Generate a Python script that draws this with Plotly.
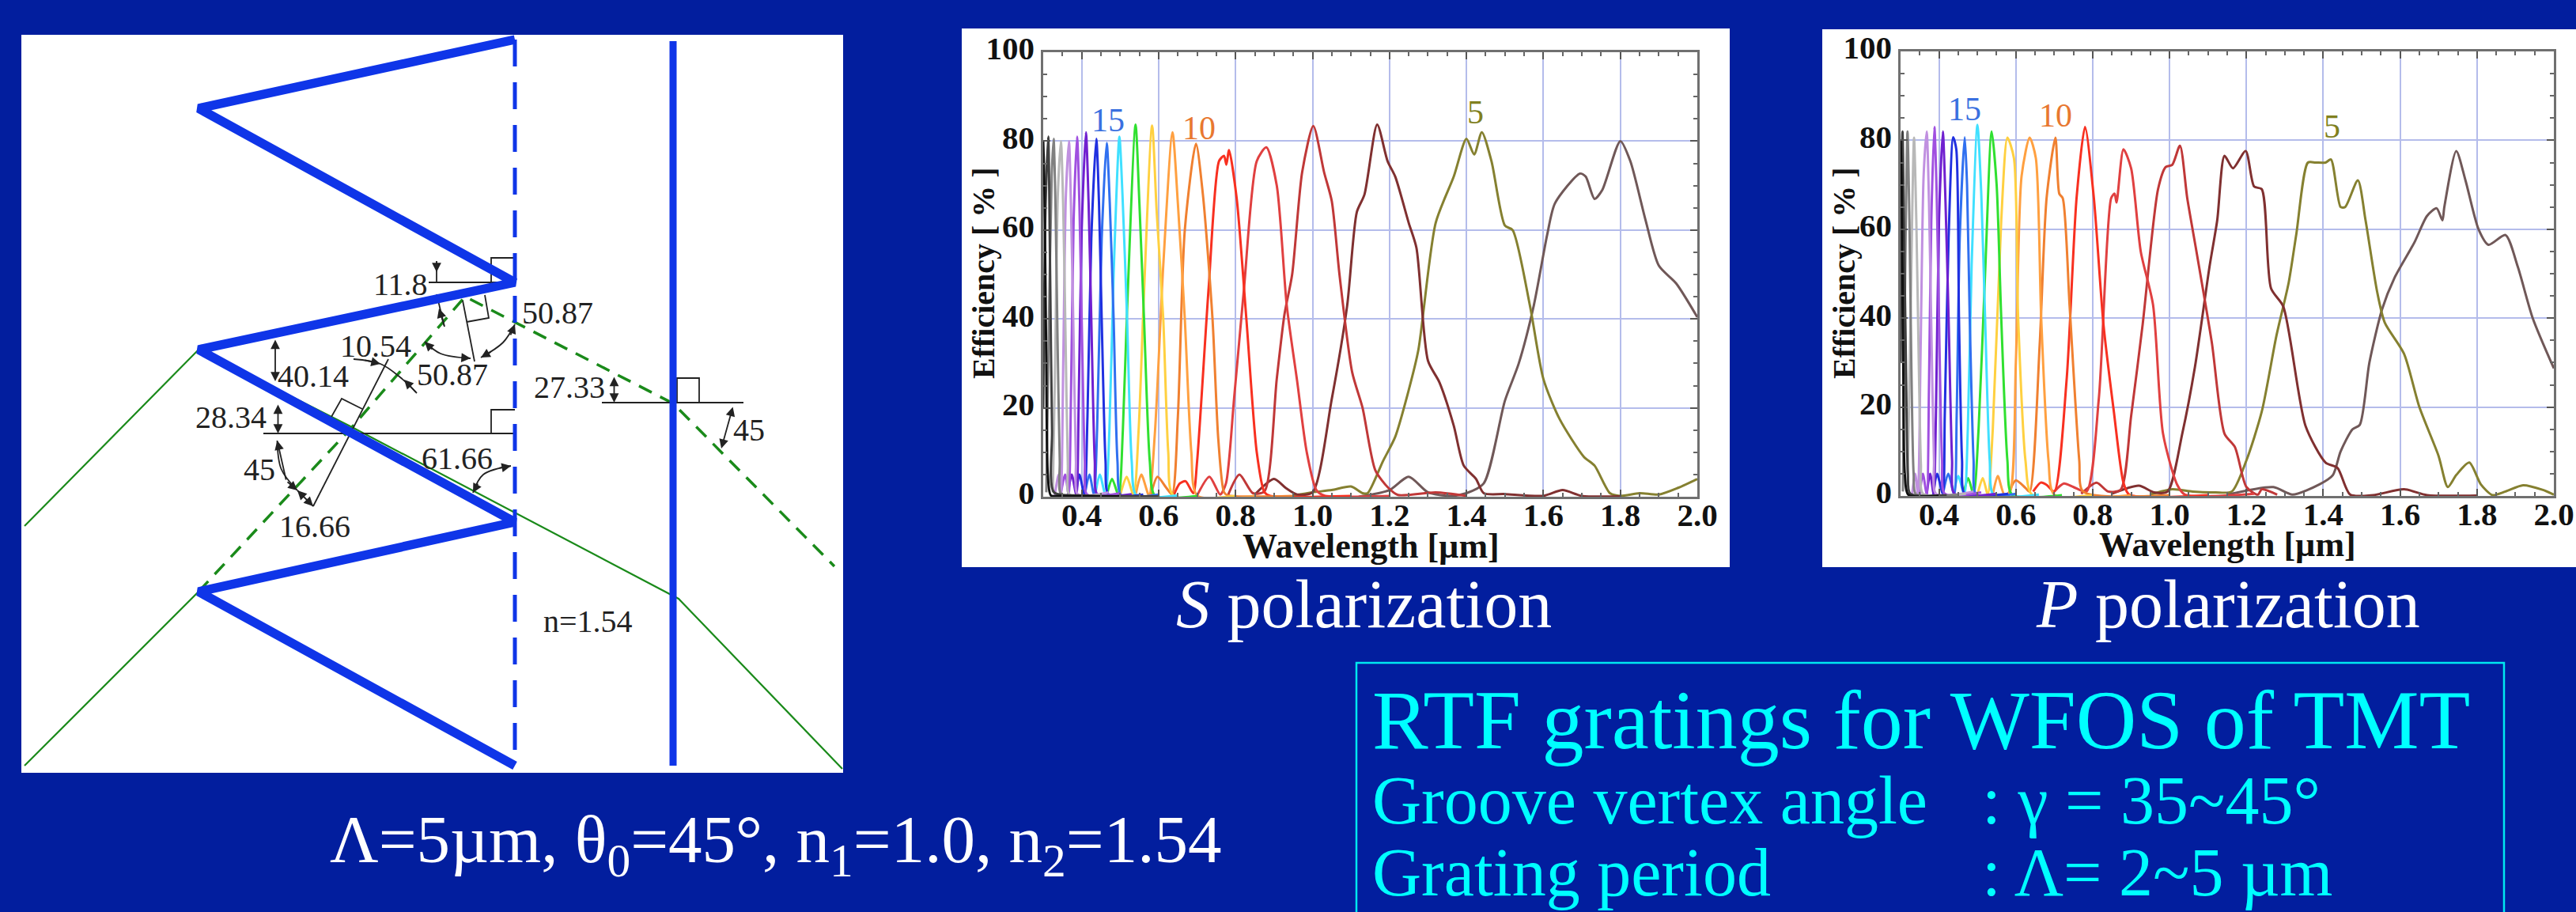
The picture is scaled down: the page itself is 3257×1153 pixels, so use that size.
import plotly.graph_objects as go

# ---------- tick labels / text ----------
x_ticks = [0.4, 0.6, 0.8, 1.0, 1.2, 1.4, 1.6, 1.8, 2.0]
x_tick_text = ["0.4", "0.6", "0.8", "1.0", "1.2", "1.4", "1.6", "1.8", "2.0"]
y_ticks = [0, 20, 40, 60, 80, 100]
y_tick_text = ["0", "20", "40", "60", "80", "100"]
colors = {23:"#101010",22:"#404040",21:"#808080",20:"#b8b8b8",19:"#c090e0",18:"#a050e0",17:"#7020d0",
          16:"#2030e0",15:"#3070f0",14:"#40e0ff",13:"#30e030",12:"#ffd040",11:"#ffa040",10:"#f08030",
          9:"#f83020",8:"#e04040",7:"#c03838",6:"#803030",5:"#858030",4:"#705858"}

# ---------- S polarization curves (wavelength um, efficiency %) ----------
s23 = [(0.30,80),(0.303,70),(0.308,30),(0.312,5),(0.32,0.3),(0.35,0.2),(0.50,0.1)]
s22 = [(0.30,20),(0.306,65),(0.313,81),(0.318,50),(0.323,15),(0.328,1),(0.40,0.3),(0.60,0.1)]
s21 = [(0.308,1),(0.315,40),(0.322,72),(0.327,80.5),(0.332,65),(0.337,37),(0.343,8),(0.347,0.5),(0.42,0.3)]
s20 = [(0.325,1),(0.331,30),(0.338,68),(0.346,80),(0.352,65),(0.358,36),(0.364,7),(0.368,0.5),(0.45,0.5)]
s19 = [(0.33,0.3),(0.34,5),(0.346,0.5),(0.352,30),(0.359,68),(0.367,80),(0.372,66),(0.378,40),(0.385,8),(0.39,0.5),(0.47,1)]
s18 = [(0.345,0.3),(0.357,5),(0.366,0.5),(0.372,22),(0.379,62),(0.388,81),(0.394,66),(0.40,40),(0.408,8),(0.414,0.5),(0.50,0.8)]
s17 = [(0.364,0.3),(0.374,5),(0.386,0.5),(0.392,20),(0.40,60),(0.411,82),(0.418,66),(0.425,40),(0.434,8),(0.441,0.5),(0.53,0.6)]
s16 = [(0.385,0.3),(0.394,5),(0.407,0.5),(0.415,18),(0.425,58),(0.438,80.5),(0.445,66),(0.452,40),(0.462,8),(0.47,0.5),(0.56,0.5)]
s15 = [(0.408,0.3),(0.42,5),(0.432,0.5),(0.44,15),(0.452,58),(0.465,79.6),(0.473,66),(0.483,40),(0.493,8),(0.503,0.3),(0.60,0.5)]
s14 = [(0.435,0.3),(0.447,5),(0.462,0.3),(0.472,15),(0.483,50),(0.498,81),(0.506,68),(0.518,40),(0.53,8),(0.542,0.3),(0.65,0.3)]
s13 = [(0.465,0.3),(0.479,4),(0.496,0.3),(0.507,15),(0.518,42),(0.54,83.7),(0.55,66),(0.562,40),(0.577,8),(0.59,0.3),(0.7,0.2)]
s12 = [(0.50,0.3),(0.517,4.5),(0.535,0.3),(0.548,15),(0.562,46),(0.583,83.5),(0.595,64),(0.612,40),(0.625,10),(0.638,0.3),(0.8,0.2)]
s11 = [(0.54,0.3),(0.555,5),(0.575,0.3),(0.59,14),(0.612,52),(0.636,82),(0.65,66),(0.668,40),(0.685,10),(0.70,0.3),(0.85,0.2)]
s10 = [(0.58,0.5),(0.597,4.5),(0.62,2),(0.635,0.5),(0.65,18),(0.668,60),(0.697,79.4),(0.715,68),(0.74,40),(0.755,13),(0.77,1),(0.78,0.3),(0.95,0.2)]
s09 = [(0.64,0.5),(0.655,3),(0.67,3.5),(0.69,0.8),(0.70,8),(0.73,47),(0.757,75.5),(0.77,76.7),(0.776,74.7),(0.783,78),(0.803,67),(0.828,40),(0.855,10),(0.875,1),(0.89,0.2),(1.1,0.2)]
s08 = [(0.70,0.3),(0.732,4.5),(0.76,0.5),(0.775,3),(0.796,22),(0.822,47),(0.855,75.5),(0.88,78.6),(0.907,70),(0.933,43),(0.96,26),(0.985,10),(1.01,1.5),(1.03,0.3),(1.2,0.2)]
s07 = [(0.78,0.3),(0.81,5),(0.845,0.8),(0.875,1.2),(0.907,26.5),(0.927,41),(0.947,50),(0.973,73),(1.002,83.4),(1.03,73),(1.05,66.5),(1.07,50),(1.103,28),(1.13,20),(1.163,6),(1.197,2),(1.222,0.4),(1.32,1),(1.4,0.2)]
s06 = [(0.85,0.5),(0.90,4),(0.93,2),(0.96,0.5),(1.0,1),(1.05,22),(1.09,43),(1.115,64),(1.135,68),(1.168,83.7),(1.195,75.5),(1.215,72),(1.25,61.6),(1.27,56),(1.30,30.6),(1.33,25.7),(1.367,16),(1.393,7),(1.425,4),(1.445,0.8),(1.5,0.6),(1.6,0.2),(1.65,1.5),(1.7,0.2),(1.8,0.1)]
s05 = [(0.95,0.3),(1.0,1),(1.05,1.5),(1.1,2.3),(1.13,0.8),(1.143,0.8),(1.183,8),(1.215,13.5),(1.25,24),(1.275,33),(1.32,61.6),(1.367,72),(1.40,80.5),(1.42,77),(1.44,82),(1.465,75.5),(1.50,61),(1.52,60),(1.565,43),(1.60,26.5),(1.642,17.5),(1.705,9),(1.733,7),(1.773,0.8),(1.80,0.2),(1.85,0.8),(1.90,0.5),(1.95,2),(2.0,4)]
s04 = [(1.12,0),(1.2,1.5),(1.25,4.5),(1.30,1),(1.36,0.2),(1.40,0.8),(1.445,3),(1.50,21.6),(1.536,30),(1.575,43),(1.61,59),(1.63,66),(1.695,72.7),(1.71,72),(1.733,67),(1.753,69),(1.80,80),(1.826,75.5),(1.865,62.4),(1.90,52),(1.945,48),(2.0,40.4)]

# ---------- P polarization curves ----------
p23 = [(0.30,80),(0.303,70),(0.307,30),(0.311,5),(0.32,0.3),(0.40,0.1)]
p22 = [(0.30,30),(0.305,82),(0.309,60),(0.314,30),(0.319,5),(0.325,0.5),(0.42,0.2)]
p21 = [(0.306,1),(0.312,50),(0.318,82),(0.323,62),(0.328,30),(0.334,5),(0.34,0.4),(0.45,0.3)]
p20 = [(0.318,1),(0.325,35),(0.335,80.6),(0.341,62),(0.347,32),(0.353,7),(0.358,0.5),(0.47,0.5)]
p19 = [(0.33,0.3),(0.338,5),(0.345,0.5),(0.352,32),(0.36,72),(0.368,82),(0.374,66),(0.38,38),(0.387,8),(0.392,0.5),(0.49,1)]
p18 = [(0.35,0.3),(0.358,5),(0.368,0.5),(0.374,25),(0.38,62),(0.388,83),(0.394,68),(0.40,40),(0.408,8),(0.415,0.5),(0.51,0.8)]
p17 = [(0.368,0.3),(0.377,5),(0.386,0.5),(0.392,18),(0.40,62),(0.41,82),(0.417,66),(0.425,40),(0.434,8),(0.44,0.5),(0.55,0.5)]
p16 = [(0.385,0.3),(0.395,5),(0.41,0.5),(0.415,18),(0.425,58),(0.437,80.7),(0.445,78),(0.452,40),(0.46,8),(0.467,0.5),(0.58,0.5)]
p15 = [(0.41,0.3),(0.424,5),(0.44,0.3),(0.446,18),(0.454,58),(0.467,80.7),(0.473,70),(0.48,40),(0.49,8),(0.497,0.3),(0.60,0.5)]
p14 = [(0.438,0.3),(0.45,4.5),(0.466,0.3),(0.475,15),(0.485,52),(0.50,83.5),(0.51,68),(0.52,40),(0.532,8),(0.542,0.3),(0.66,0.3)]
p13 = [(0.463,0.3),(0.476,4),(0.49,0.3),(0.503,15),(0.52,50),(0.537,82),(0.55,70),(0.562,40),(0.578,8),(0.59,0.3),(0.72,0.2)]
p12 = [(0.50,0.3),(0.514,4),(0.527,0.3),(0.54,15),(0.562,62),(0.578,80.6),(0.595,76),(0.606,40),(0.625,8),(0.642,0.3),(0.8,0.2)]
p11 = [(0.54,0.3),(0.553,4.5),(0.57,0.3),(0.585,1),(0.60,30),(0.615,72),(0.636,80.6),(0.652,76),(0.666,40),(0.685,8),(0.70,0.3),(0.9,0.2)]
p10 = [(0.58,0.3),(0.60,3.5),(0.625,1.8),(0.636,1),(0.662,34),(0.68,67),(0.703,80.6),(0.713,68),(0.722,67),(0.74,42.6),(0.765,8),(0.775,1),(1.0,0.2)]
p09 = [(0.645,1),(0.665,3),(0.68,2.5),(0.70,1),(0.732,26),(0.758,67),(0.78,83),(0.803,67),(0.828,38.6),(0.855,19),(0.88,3),(0.895,0.3),(1.1,0.2)]
p08 = [(0.70,1),(0.725,2.8),(0.75,2),(0.784,1),(0.816,22),(0.848,67),(0.857,68),(0.862,66),(0.88,78),(0.90,73.7),(0.925,55),(0.957,43),(0.983,14),(1.02,2.5),(1.04,0.3),(1.22,0.5)]
p07 = [(0.77,0.5),(0.81,3),(0.84,1),(0.873,1.4),(0.90,18),(0.93,38.6),(0.97,69),(0.99,74),(1.007,74.5),(1.027,78.8),(1.046,67),(1.07,55),(1.11,34.5),(1.143,14),(1.17,11),(1.20,2),(1.23,0.3),(1.24,1.5),(1.28,0.3)]
p06 = [(0.85,0.5),(0.92,2.3),(0.96,0.8),(0.995,1),(1.033,14),(1.066,29),(1.104,51.6),(1.124,62),(1.143,76.5),(1.165,73.7),(1.198,77.6),(1.22,69.6),(1.24,69),(1.264,46.7),(1.296,42.6),(1.354,15.7),(1.406,7.5),(1.437,6.3),(1.47,0.3),(1.53,0.2),(1.61,1.5),(1.67,0.2),(1.8,0.1)]
p05 = [(0.95,0.3),(1.007,1.5),(1.06,1),(1.12,0.8),(1.162,1),(1.20,8),(1.24,19),(1.278,36),(1.31,48),(1.33,59),(1.36,75),(1.38,75),(1.406,75),(1.42,75.7),(1.445,65),(1.457,65),(1.49,71),(1.51,62),(1.54,46),(1.56,39),(1.61,32),(1.65,20),(1.70,9),(1.724,2),(1.746,4.7),(1.78,7.5),(1.81,2.6),(1.84,0.2),(1.874,1),(1.92,2.4),(1.97,1.4),(2.0,0.3)]
p04 = [(1.15,0.3),(1.27,2),(1.32,0.3),(1.39,2.6),(1.425,4.7),(1.445,10),(1.476,15),(1.495,16),(1.52,30),(1.553,42),(1.585,49),(1.637,57),(1.67,63),(1.695,64.7),(1.71,62),(1.715,65),(1.746,77.6),(1.77,71),(1.804,60),(1.83,56.5),(1.874,58.7),(1.906,51.6),(1.945,40),(2.0,28.7)]

s_series = {23:s23,22:s22,21:s21,20:s20,19:s19,18:s18,17:s17,16:s16,15:s15,14:s14,13:s13,12:s12,11:s11,10:s10,9:s09,8:s08,7:s07,6:s06,5:s05,4:s04}
p_series = {23:p23,22:p22,21:p21,20:p20,19:p19,18:p18,17:p17,16:p16,15:p15,14:p14,13:p13,12:p12,11:p11,10:p10,9:p09,8:p08,7:p07,6:p06,5:p05,4:p04}

# ---------- grating schematic (in picture pixels of the schematic axis) ----------
zigzag_x = [651,251,651,251,651,251,651]
zigzag_y = [50,137,357,442,660,748,968]
groove_x = [651,651]
groove_y = [50,968]
film_x = [851,851]
film_y = [52,968]
ray_in1_x = [31,251,445,858,1065]
ray_in1_y = [665,442,540,757,972]
ray_in2_x = [31,251]
ray_in2_y = [968,748]
ray_dash_x = [251,445,588,851,1055]
ray_dash_y = [748,540,375,510,716]
thin_segments = [
    ([542,651],[357,357]), ([621,621,651],[357,326,326]),
    ([552,552],[330,357]), ([552,562],[372,413]),
    ([585,600],[380,457]), ([613,618,590],[373,402,407]),
    ([491,396],[454,640]), ([419,432,458],[527,504,517]),
    ([333,651],[548,548]), ([621,621,651],[548,518,518]),
    ([761,940],[509,509]), ([856,856,884,884],[509,478,478,509]),
    ([376,396],[620,640]),
]
arc_segments = [
    ([350.5,355.6,376],[557,593,620]),
    ([598,611,646],[623,600,589]),
    ([537,557,595],[432,447,453]),
    ([608,636,651],[452,433,410]),
    ([447,481,506,527],[454,460,477,497]),
]
arrows = [
    (552,330,552,344,"end"),(562,413,555,390,"end"),
    (348,428,348,482,"end+start"),(351.5,510,351.5,548,"end+start"),
    (776.5,475,776.5,509,"end+start"),(927,513,912,567,"end+start"),
    (362,608,350.5,557,"end"),(362,608,376,620,"end"),
    (386,630,376,620,"end"),(386,630,396,640,"end"),
    (605,610,598,623,"end"),(630,592,646,589,"end"),
    (548,443,537,432,"end"),(582,452,595,453,"end"),
    (622,444,608,452,"end"),(645,425,651,410,"end"),
    (460,455,481,460,"end"),(527,497,511,480,"end"),
]
angle_labels = [("11.8",506,359),("50.87",705,395),("10.54",475,437),("40.14",396,475),("50.87",572,473),
                ("28.34",292,527),("27.33",720,489),("45",947,543),("45",328,593),("61.66",578,579),("16.66",398,665),
                ("n=1.54",743,785)]

BG = "#021E9E"
SERIF = "Liberation Serif"
W, H = 3257, 1153
fig = go.Figure()

def px(v): return v / W
def py(v): return 1 - v / H

def add_curves(series, xa, ya):
    for n in sorted(series):
        pts = series[n]
        fig.add_trace(go.Scatter(x=[p[0] for p in pts], y=[p[1] for p in pts], mode="lines", xaxis=xa, yaxis=ya,
                                 line=dict(color=colors[n], width=3, shape="spline", smoothing=0.7),
                                 showlegend=False, name=f"n={n}"))

add_curves(s_series, "x", "y")
add_curves(p_series, "x2", "y2")

def sch(x, y, color, width, dash=None):
    fig.add_trace(go.Scatter(x=x, y=y, mode="lines", xaxis="x3", yaxis="y3", showlegend=False,
                             line=dict(color=color, width=width, dash=dash)))

sch(ray_in1_x, ray_in1_y, "#1a8a1a", 2.2)
sch(ray_in2_x, ray_in2_y, "#1a8a1a", 2.2)
sch(ray_dash_x, ray_dash_y, "#1a8a1a", 3.5, "18px,12px")
for xs, ys in thin_segments:
    sch(xs, ys, "#222222", 1.8)
for xs, ys in arc_segments:
    fig.add_trace(go.Scatter(x=xs, y=ys, mode="lines", xaxis="x3", yaxis="y3", showlegend=False,
                             line=dict(color="#222222", width=1.8, shape="spline")))
sch(groove_x, groove_y, "#0F35E8", 5, "34px,20px")
sch(film_x, film_y, "#0F35E8", 9)
sch(zigzag_x, zigzag_y, "#0F35E8", 11.5)

def axis_common(domain, tickvals, ticktext, rng, minor):
    return dict(domain=domain, range=rng, tickmode="array", tickvals=tickvals, ticktext=ticktext, showline=True, linecolor="#707070", linewidth=2.5,
                mirror="allticks", ticks="inside", ticklen=9, tickcolor="#555555", tickwidth=2, showgrid=True,
                gridcolor="#B4BCEB", gridwidth=2, zeroline=False, automargin=False,
                tickfont=dict(family=SERIF, size=41, color="#111111", weight=700),
                minor=dict(dtick=minor, ticks="inside", ticklen=5, tickcolor="#666666", tickwidth=1.5, showgrid=False))

layout = dict(
    width=W, height=H, margin=dict(l=0, r=0, t=0, b=0, pad=0, autoexpand=False), paper_bgcolor=BG, plot_bgcolor="rgba(0,0,0,0)",
    showlegend=False, font=dict(family=SERIF),
    xaxis=dict(axis_common([px(1319), px(2146)], x_ticks, x_tick_text, [0.3, 2.0], 0.05), anchor="y", ticklabelstandoff=-15),
    yaxis=dict(axis_common([py(628), py(66)], y_ticks, y_tick_text, [0, 100], 5), anchor="x", ticklabelshift=-5),
    xaxis2=dict(axis_common([px(2403), px(3229)], x_ticks, x_tick_text, [0.3, 2.0], 0.05), anchor="y2", ticklabelstandoff=-15),
    yaxis2=dict(axis_common([py(627), py(65)], y_ticks, y_tick_text, [0, 100], 5), anchor="x2", ticklabelshift=-5),
    xaxis3=dict(domain=[0, 1], range=[0, W], visible=False, anchor="y3"),
    yaxis3=dict(domain=[0, 1], range=[H, 0], visible=False, anchor="x3"),
)

def panel(x0, y0, x1, y1):
    return dict(type="rect", xref="paper", yref="paper", x0=px(x0), x1=px(x1), y0=py(y1), y1=py(y0),
                fillcolor="white", line=dict(width=0), layer="below")

shapes = [panel(27, 44, 1066, 977), panel(1216, 36, 2187, 717), panel(2304, 37, 3257, 717),
          dict(type="rect", xref="paper", yref="paper", x0=px(1715), x1=px(3166), y0=py(1170), y1=py(838),
               fillcolor="rgba(0,0,0,0)", line=dict(color="#00E8F0", width=2.5), layer="below")]

ann = []
def label(text, x, y, size, color="#111111", xanchor="center", yanchor="middle", weight=None, textangle=0):
    f = dict(family=SERIF, size=size, color=color)
    if weight: f["weight"] = weight
    ann.append(dict(text=text, x=x, y=y, xref="x3", yref="y3", showarrow=False, xanchor=xanchor, yanchor=yanchor,
                    font=f, textangle=textangle))

for x0, y0, x1, y1, side in arrows:
    ann.append(dict(text="", x=x1, y=y1, ax=x0, ay=y0, xref="x3", yref="y3", axref="x3", ayref="y3", showarrow=True,
                    arrowhead=2, arrowsize=1.3, arrowwidth=1.8, arrowcolor="#222222", arrowside=side))
for t, x, y in angle_labels:
    label(t, x, y, 40, "#222222")

label("Wavelength [µm]", 1733, 690, 44, weight=700)
label("Wavelength [µm]", 2816, 688, 44, weight=700)
label("Efficiency [ % ]", 1243, 345, 40, weight=700, textangle=-90)
label("Efficiency [ % ]", 2331, 345, 40, weight=700, textangle=-90)
label("15", 1401, 152, 42, "#3A70E0")
label("10", 1516, 162, 42, "#E87830")
label("5", 1865, 142, 42, "#808020")
label("15", 2484, 138, 42, "#3A70E0")
label("10", 2599, 146, 42, "#E87830")
label("5", 2948, 160, 42, "#808020")
label("<i>S</i> polarization", 1724, 764, 86, "white")
label("<i>P</i> polarization", 2817, 764, 86, "white")
label("Λ=5µm, θ<sub>0</sub>=45°, n<sub>1</sub>=1.0, n<sub>2</sub>=1.54", 980, 1067, 85, "white")
label("RTF gratings for WFOS of TMT", 1733, 910, 106, "#00FFFF", xanchor="left")
label("Groove vertex angle", 1733, 1012, 86, "#00FFFF", xanchor="left")
label(": γ = 35~45°", 2504, 1012, 86, "#00FFFF", xanchor="left")
label("Grating period", 1733, 1103, 86, "#00FFFF", xanchor="left")
label(": Λ= 2~5 µm", 2504, 1103, 86, "#00FFFF", xanchor="left")

layout["shapes"] = shapes
layout["annotations"] = ann
fig.update_layout(**layout)
fig.write_html("out.html", config=dict(displayModeBar=False),
               post_script="document.body.style.margin='0';document.body.style.overflow='hidden';")
